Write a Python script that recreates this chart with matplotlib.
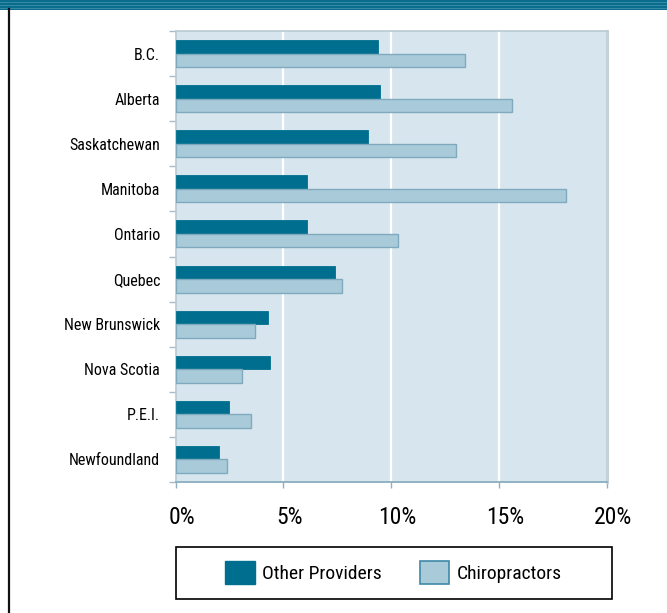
import matplotlib
matplotlib.use("Agg")
import matplotlib.pyplot as plt
import matplotlib.transforms as mtransforms
import numpy as np
from matplotlib.patches import Rectangle, Patch
from matplotlib.lines import Line2D

categories = ["B.C.", "Alberta", "Saskatchewan", "Manitoba", "Ontario", "Quebec",
              "New Brunswick", "Nova Scotia", "P.E.I.", "Newfoundland"]
other_providers = [9.4, 9.5, 8.9, 6.1, 6.1, 7.4, 4.3, 4.4, 2.5, 2.0]
chiropractors = [13.4, 15.6, 13.0, 18.1, 10.3, 7.7, 3.7, 3.1, 3.5, 2.4]
xticks = [0, 5, 10, 15, 20]
xtick_labels = ["0%", "5%", "10%", "15%", "20%"]
series_names = ["Other Providers", "Chiropractors"]

FONT = ["Liberation Sans Narrow", "Roboto Condensed", "DejaVu Sans"]
plt.rcParams['font.family'] = FONT

DARK = "#006f8f"
LIGHT = "#a9cbd9"
LIGHT_EDGE = "#7fa9bc"
BG = "#d7e6ee"

W, H = 667, 613
fig = plt.figure(figsize=(W / 100, H / 100), dpi=100)
fig.patch.set_facecolor("white")

# top band
fig.add_artist(Rectangle((0, 1 - 9.5 / H), 1, 9.5 / H, transform=fig.transFigure,
                         facecolor="#0a6d8e", edgecolor="none", zorder=0))
for yy in [2, 5, 8]:
    fig.add_artist(Line2D([0, 1], [1 - yy / H] * 2, transform=fig.transFigure,
                          color="#3f8fa9", lw=0.6, zorder=1))
# left black rule
fig.add_artist(Line2D([8.5 / W] * 2, [0, 1 - 9 / H], transform=fig.transFigure,
                      color="#111111", lw=1.6, zorder=1))

left, right, top, bottom = 175.5, 607, 31, 482
ax = fig.add_axes([left / W, 1 - bottom / H, (right - left) / W, (bottom - top) / H])
ax.set_facecolor(BG)

y = np.arange(len(categories))
h = 0.3
ax.barh(y - h / 2, other_providers, height=h, color=DARK, edgecolor=DARK, lw=0.6, zorder=3)
ax.barh(y + h / 2, chiropractors, height=h, color=LIGHT, edgecolor=LIGHT_EDGE, lw=1.0, zorder=3)

ax.set_xlim(0, 20)
ax.set_ylim(len(categories) - 0.5, -0.5)
ax.set_xticks(xticks)
ax.set_xticklabels(xtick_labels, fontsize=17)
ax.set_yticks(y)
ax.set_yticklabels(categories, fontsize=11.5)
ax.set_yticks(np.arange(len(categories) + 1) - 0.5, minor=True)
ax.tick_params(axis="y", which="major", length=0, pad=11)
ax.tick_params(axis="y", which="minor", length=5, color="#a8bcc6", width=1)
ax.tick_params(axis="x", which="major", length=4, color="#8fb0c0", width=1, pad=13)
shift = mtransforms.ScaledTranslation(6 / 100, 0, fig.dpi_scale_trans)
for lbl in ax.get_xticklabels():
    lbl.set_transform(lbl.get_transform() + shift)

for xv in xticks[1:-1]:
    ax.axvline(xv, color="white", lw=1.6, zorder=1)

for s in ["left", "top"]:
    ax.spines[s].set_color("#b8cad3")
    ax.spines[s].set_linewidth(1.2)
ax.spines["right"].set_color("#c3d2d9")
ax.spines["right"].set_linewidth(2.2)
ax.spines["bottom"].set_color("#90b2c2")
ax.spines["bottom"].set_linewidth(1.4)

# legend box
lx0, lx1, ly0, ly1 = 175.5, 611.5, 546.5, 598.5
fig.add_artist(Rectangle((lx0 / W, 1 - ly1 / H), (lx1 - lx0) / W, (ly1 - ly0) / H,
                         transform=fig.transFigure, facecolor="white",
                         edgecolor="black", lw=1.2, zorder=2))
handles = [Patch(facecolor=DARK, edgecolor=DARK),
           Patch(facecolor=LIGHT, edgecolor="#3f8aa8", lw=1.2)]
leg = fig.legend(handles, series_names, loc="center",
                 bbox_to_anchor=((lx0 + lx1) / 2 / W, 1 - (ly0 + ly1) / 2 / H),
                 ncol=2, frameon=False, fontsize=14, handlelength=1.5,
                 handleheight=1.5, handletextpad=0.36, columnspacing=2.0,
                 borderpad=0)
leg.set_zorder(3)

fig.savefig("out.png", dpi=100)
